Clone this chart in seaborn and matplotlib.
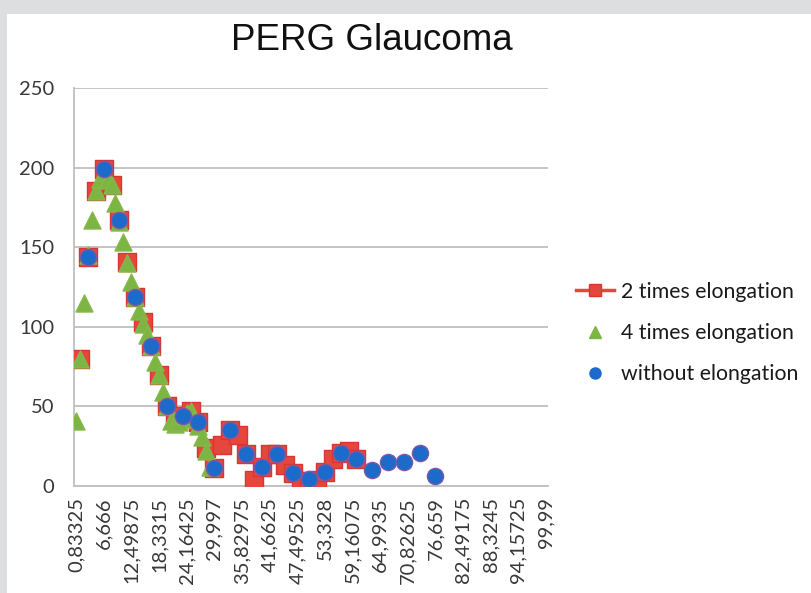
"""PERG Glaucoma scatter chart (Excel-style category axis)."""
import numpy as np
import pandas as pd
import matplotlib
matplotlib.use('Agg')
import matplotlib.pyplot as plt
from matplotlib.lines import Line2D
import seaborn as sns

# sample index on the category axis (1..120, one category = 0.83325)
n_categories = 120
tick_idx = [1, 8, 15, 22, 29, 36, 43, 50, 57, 64, 71, 78, 85, 92, 99, 106, 113, 120]
tick_labels = ['0,83325', '6,666', '12,49875', '18,3315', '24,16425', '29,997',
               '35,82975', '41,6625', '47,49525', '53,328', '59,16075', '64,9935',
               '70,82625', '76,659', '82,49175', '88,3245', '94,15725', '99,99']

# 2 times elongation: every second sample
red_idx = [2, 4, 6, 8, 10, 12, 14, 16, 18, 20, 22, 24, 26, 28, 30, 32, 34, 36,
           38, 40, 42, 44, 46, 48, 50, 52, 54, 56, 58, 60, 62, 64, 66, 68, 70, 72]
red_val = [80, 144, 185, 199, 189, 167, 141, 119, 103, 88, 70, 50, 43, 44, 47, 40, 24, 11,
           26, 35, 32, 20, 4, 12, 20, 20, 13, 8, 3, 3, 4, 9, 17, 21, 22, 17]

# 4 times elongation: every sample
green_idx = list(range(1, 36))
green_val = [41, 80, 115, 145, 167, 185, 193, 197, 192, 189, 178, 166, 153, 140, 128,
             119, 110, 102, 95, 88, 78, 70, 59, 50, 41, 39, 40, 44, 46, 47, 42, 38, 31, 22, 12]

# without elongation: every fourth sample
blue_idx = [4, 8, 12, 16, 20, 24, 28, 32, 36, 40, 44, 48, 52, 56, 60, 64, 68, 72,
            76, 80, 84, 88, 92]
blue_val = [144, 199, 167, 119, 88, 50, 44, 40, 11, 35, 20, 12, 20, 8, 4.5, 9, 21, 17,
            10, 15, 15, 21, 6]

labels = ['2 times elongation', '4 times elongation', 'without elongation']
colors = ['#E5473D', '#7DB543', '#1C6AC9']
edges = ['#D8362E', '#86B84C', '#7A58A8']
markers = ['s', '^', 'o']
sizes = [150, 150, 135]

plt.rcParams['font.family'] = ['Lato', 'DejaVu Sans']

fig = plt.figure(figsize=(8.12, 5.93), dpi=100)
fig.patch.set_facecolor('#DDDEE0')
# white chart area inside the grey frame
fig.add_artist(plt.Rectangle((7 / 812, 0), 1, 1 - 14 / 593, transform=fig.transFigure,
                             facecolor='white', edgecolor='none', zorder=0))
ax = fig.add_axes([74 / 812, 1 - 486 / 593, (548 - 74) / 812, (486 - 88) / 593])
ax.set_facecolor('white')

series = [(red_idx, red_val), (green_idx, green_val), (blue_idx, blue_val)]
for k, (idx, val) in enumerate(series):
    df = pd.DataFrame({'x': idx, 'y': val})
    sns.scatterplot(data=df, x='x', y='y', ax=ax, marker=markers[k], s=sizes[k],
                    color=colors[k], edgecolor=edges[k], linewidth=1,
                    zorder=3 + k, legend=False)

ax.set_xlim(0.5, n_categories + 0.5)
ax.set_ylim(0, 250)
ax.set_yticks([0, 50, 100, 150, 200, 250])
ax.set_xticks(tick_idx)
ax.set_xticklabels(tick_labels, rotation=90)
ax.tick_params(axis='y', length=0, pad=14, labelsize=14.5, labelcolor='#383838')
ax.tick_params(axis='x', length=0, pad=8, labelsize=14.5, labelcolor='#383838')
ax.set_xlabel('')
ax.set_ylabel('')
ax.grid(axis='y', color='#BFBFBF', linewidth=1.3)
ax.set_axisbelow(True)
for side in ['top', 'right']:
    ax.spines[side].set_visible(False)
for side in ['left', 'bottom']:
    ax.spines[side].set_color('#BFBFBF')
    ax.spines[side].set_linewidth(1.3)

fig.text(372 / 812, 1 - 40 / 593, 'PERG Glaucoma', ha='center', va='center',
         fontsize=26.5, family=['Liberation Sans', 'DejaVu Sans'], color='#111111')

handles = [
    Line2D([], [], color=colors[0], lw=2.5, marker='s', markersize=8,
           markerfacecolor=colors[0], markeredgecolor=edges[0]),
    Line2D([], [], lw=0, marker='^', markersize=8, color=colors[1]),
    Line2D([], [], lw=0, marker='o', markersize=8, color=colors[2]),
]
fig.legend(handles, labels, loc='center left', bbox_to_anchor=(576 / 812, 1 - 333 / 593),
           frameon=False, fontsize=15.3, handlelength=1.8, handletextpad=0.3,
           labelspacing=1.0, borderpad=0, borderaxespad=0, labelcolor='#1a1a1a')

plt.savefig('out.png', dpi=100)
plt.close()
